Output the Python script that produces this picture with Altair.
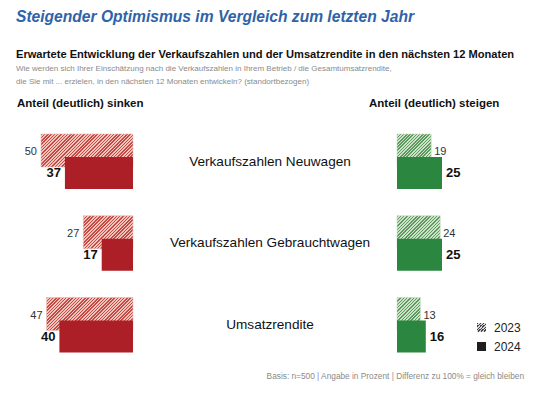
import altair as alt
import pandas as pd

# ---------------- data ----------------
categories = ["Verkaufszahlen Neuwagen", "Verkaufszahlen Gebrauchtwagen", "Umsatzrendite"]
sinken_2023 = [50, 27, 47]
sinken_2024 = [37, 17, 40]
steigen_2023 = [19, 24, 13]
steigen_2024 = [25, 25, 16]
legend_years = ["2023", "2024"]

title_text = "Steigender Optimismus im Vergleich zum letzten Jahr"
subtitle_text = "Erwartete Entwicklung der Verkaufszahlen und der Umsatzrendite in den nächsten 12 Monaten"
question_lines = [
    "Wie werden sich Ihrer Einschätzung nach die Verkaufszahlen in Ihrem Betrieb / die Gesamtumsatzrendite,",
    "die Sie mit ... erzielen, in den nächsten 12 Monaten entwickeln? (standortbezogen)",
]
header_left = "Anteil (deutlich) sinken"
header_right = "Anteil (deutlich) steigen"
footer_text = "Basis: n=500 | Angabe in Prozent | Differenz zu 100% = gleich bleiben"

# ---------------- styling ----------------
FONT = "Liberation Sans"
RED = "#ad1f27"
GREEN = "#2b873f"
BLUE = "#2f63a8"
LEFT_PX = 1.84   # px per percentage point (left panel)
RIGHT_PX = 1.8   # px per percentage point (right panel)
BAR_H23 = 33
BAR_H24 = 32
OFF23 = -11
OFF24 = 11.5

df = pd.DataFrame({
    "cat": categories,
    "s23": sinken_2023,
    "s24": sinken_2024,
    "g23": steigen_2023,
    "g24": steigen_2024,
})

yscale = alt.Scale(type="point", domain=categories, range=[153.5, 317], padding=0)
left_x = alt.Scale(domain=[0, 50], range=[125, 125 - 50 * LEFT_PX], zero=True, nice=False)
right_x = alt.Scale(domain=[0, 25], range=[389, 389 + 25 * RIGHT_PX], zero=True, nice=False)


def hatch(w, h, line_col, bg_col, period=2.3, frac=0.45):
    """Diagonal '/' stripes via a sharp-stop linear gradient (bbox units)."""
    s = (w + h) / (w * w + h * h)
    x2, y2 = w * s, h * s
    n = max(1, round((w + h) / (2 ** 0.5) / period))
    stops = []
    for i in range(n):
        a = i / n
        b = (i + frac) / n
        c = (i + 1) / n
        stops += [
            alt.GradientStop(offset=a, color=line_col),
            alt.GradientStop(offset=b, color=line_col),
            alt.GradientStop(offset=b, color=bg_col),
            alt.GradientStop(offset=c, color=bg_col),
        ]
    return alt.LinearGradient(gradient="linear", stops=stops, x1=0, y1=0, x2=x2, y2=y2)


base = alt.Chart(df)

# ---------- left (sinken) ----------
left_layers = []
for c, v in zip(categories, sinken_2023):
    left_layers.append(
        base.transform_filter(alt.datum.cat == c)
        .mark_bar(height=BAR_H23, yOffset=OFF23,
                  fill=hatch(v * LEFT_PX, BAR_H23, "#c44a44", "#f1c3bd"),
                  stroke="#ecb8b1", strokeWidth=0.6)
        .encode(x=alt.X("s23:Q", scale=left_x, axis=None),
                y=alt.Y("cat:N", scale=yscale, axis=None))
    )
left_layers.append(
    base.mark_bar(height=BAR_H24, yOffset=OFF24, color=RED)
    .encode(x=alt.X("s24:Q", scale=left_x, axis=None),
            y=alt.Y("cat:N", scale=yscale, axis=None))
)
left_layers.append(
    base.mark_text(align="right", baseline="middle", dx=-4, dy=OFF23 + 1.5,
                   font=FONT, fontSize=11, color="#333333")
    .encode(x=alt.X("s23:Q", scale=left_x, axis=None),
            y=alt.Y("cat:N", scale=yscale, axis=None), text="s23:Q")
)
left_layers.append(
    base.mark_text(align="right", baseline="middle", dx=-4, dy=OFF24,
                   font=FONT, fontSize=13, fontWeight="bold", color="#111111")
    .encode(x=alt.X("s24:Q", scale=left_x, axis=None),
            y=alt.Y("cat:N", scale=yscale, axis=None), text="s24:Q")
)
# category labels in the middle
left_layers.append(
    base.mark_text(align="center", baseline="middle", font=FONT, fontSize=13.6, color="#111111")
    .encode(x=alt.value(262), y=alt.Y("cat:N", scale=yscale, axis=None), text="cat:N")
)
left = alt.layer(*left_layers)

# ---------- right (steigen) ----------
right_layers = []
for c, v in zip(categories, steigen_2023):
    right_layers.append(
        base.transform_filter(alt.datum.cat == c)
        .mark_bar(height=BAR_H23, yOffset=OFF23,
                  fill=hatch(v * RIGHT_PX, BAR_H23, "#5a9a5c", "#cde2c9"),
                  stroke="#c5ddc1", strokeWidth=0.6)
        .encode(x=alt.X("g23:Q", scale=right_x, axis=None),
                y=alt.Y("cat:N", scale=yscale, axis=None))
    )
right_layers.append(
    base.mark_bar(height=BAR_H24, yOffset=OFF24, color=GREEN)
    .encode(x=alt.X("g24:Q", scale=right_x, axis=None),
            y=alt.Y("cat:N", scale=yscale, axis=None))
)
right_layers.append(
    base.mark_text(align="left", baseline="middle", dx=3, dy=OFF23 + 1.5,
                   font=FONT, fontSize=11, color="#333333")
    .encode(x=alt.X("g23:Q", scale=right_x, axis=None),
            y=alt.Y("cat:N", scale=yscale, axis=None), text="g23:Q")
)
right_layers.append(
    base.mark_text(align="left", baseline="middle", dx=4, dy=OFF24,
                   font=FONT, fontSize=13, fontWeight="bold", color="#111111")
    .encode(x=alt.X("g24:Q", scale=right_x, axis=None),
            y=alt.Y("cat:N", scale=yscale, axis=None), text="g24:Q")
)
right = alt.layer(*right_layers)

# ---------- annotations ----------
def txt(s, x, y, **kw):
    return alt.Chart(pd.DataFrame({"t": [s]})).mark_text(font=FONT, **kw).encode(
        text="t:N", x=alt.value(x), y=alt.value(y))

annot = [
    txt(title_text, 8, 9, align="left", baseline="middle", fontSize=15.6,
        fontWeight="bold", fontStyle="italic", color=BLUE),
    txt(subtitle_text, 8, 47, align="left", baseline="middle", fontSize=11.1,
        fontWeight="bold", color="#111111"),
    txt(question_lines[0], 8, 61, align="left", baseline="middle", fontSize=8, color="#8a8a8a"),
    txt(question_lines[1], 8, 74, align="left", baseline="middle", fontSize=8, color="#8a8a8a"),
    txt(header_left, 9, 96, align="left", baseline="middle", fontSize=11.5,
        fontWeight="bold", color="#111111"),
    txt(header_right, 361, 96, align="left", baseline="middle", fontSize=11.5,
        fontWeight="bold", color="#111111"),
    txt(footer_text, 516, 369, align="right", baseline="middle", fontSize=8.3, color="#8a8a8a"),
]

# legend
leg_df = pd.DataFrame({"year": legend_years})
annot.append(
    alt.Chart(leg_df).transform_filter(alt.datum.year == legend_years[0])
    .mark_rect(fill=hatch(9, 9, "#444444", "#d8d8d8"))
    .encode(x=alt.value(469), x2=alt.value(478), y=alt.value(315), y2=alt.value(324))
)
annot.append(
    alt.Chart(leg_df).transform_filter(alt.datum.year == legend_years[1])
    .mark_rect(color="#1e1e1e")
    .encode(x=alt.value(469), x2=alt.value(478), y=alt.value(334), y2=alt.value(343))
)
annot.append(
    alt.Chart(leg_df).transform_filter(alt.datum.year == legend_years[0])
    .mark_text(align="left", baseline="middle", font=FONT, fontSize=12, color="#222222")
    .encode(text="year:N", x=alt.value(486), y=alt.value(319.5))
)
annot.append(
    alt.Chart(leg_df).transform_filter(alt.datum.year == legend_years[1])
    .mark_text(align="left", baseline="middle", font=FONT, fontSize=12, color="#222222")
    .encode(text="year:N", x=alt.value(486), y=alt.value(339))
)

chart = (
    alt.layer(left, right, *annot)
    .resolve_scale(x="independent")
    .properties(width=541, height=378, autosize="none", padding=0, background="white")
    .configure_view(stroke=None)
)

chart.save("out.html", embed_options={"renderer": "svg", "actions": False})
